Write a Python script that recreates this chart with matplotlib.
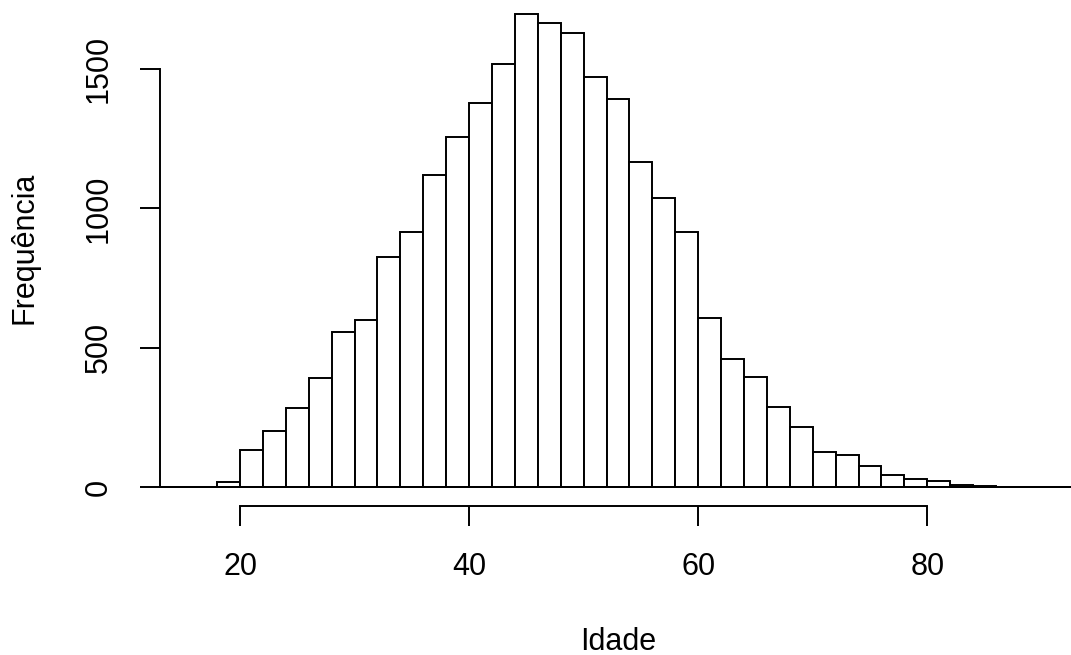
import numpy as np
import matplotlib
matplotlib.use("Agg")
import matplotlib.pyplot as plt

plt.rcParams['font.family'] = ['Liberation Sans', 'DejaVu Sans']

# histogram of ages, bins of width 2 (left edges)
bin_left = list(range(12, 96, 2))
counts = [0, 0, 0, 18, 134, 201, 283, 391, 556, 599, 825, 915, 1119, 1255,
          1377, 1519, 1698, 1664, 1631, 1471, 1391, 1165, 1038, 914, 606,
          459, 395, 287, 215, 127, 116, 74, 44, 29, 23, 9, 5, 2, 1, 0, 0, 0]
x_ticks = [20, 40, 60, 80]
y_ticks = [0, 500, 1000, 1500]

W, H = 1071, 655
fig = plt.figure(figsize=(W / 100, H / 100), dpi=100)

# plot region in pixels (R style, 4% extension)
left_px, right_px = 160.3, 1075.7
bottom_px, top_px = 506, -5.1
ax = fig.add_axes([left_px / W, 1 - bottom_px / H,
                   (right_px - left_px) / W, (bottom_px - top_px) / H])

ax.bar(bin_left, counts, width=2, align='edge', color='white',
       edgecolor='black', linewidth=1.4)
ax.hlines(0, 12, 96, color='black', linewidth=1.4)

ax.set_xlim(13.04, 92.96)
ax.set_ylim(-0.04 * 1698, 1.04 * 1698)

for s in ['top', 'right']:
    ax.spines[s].set_visible(False)
ax.spines['left'].set_bounds(0, 1500)
ax.spines['bottom'].set_bounds(20, 80)
ax.spines['left'].set_linewidth(1.4)
ax.spines['bottom'].set_linewidth(1.4)

ax.set_xticks(x_ticks)
ax.set_xticklabels([str(v) for v in x_ticks])
ax.set_yticks(y_ticks)
ax.set_yticklabels([str(v) for v in y_ticks], rotation=90, va='center')
ax.tick_params(direction='out', length=14.4, width=1.4, labelsize=22, pad=19)

fig.text(618 / W, 1 - 650 / H, 'Idade', ha='center', va='baseline', fontsize=22)
fig.text(25 / W, 1 - 248 / H, 'Frequência', ha='center', va='center',
         rotation=90, fontsize=22)

fig.savefig('out.png', dpi=100)
